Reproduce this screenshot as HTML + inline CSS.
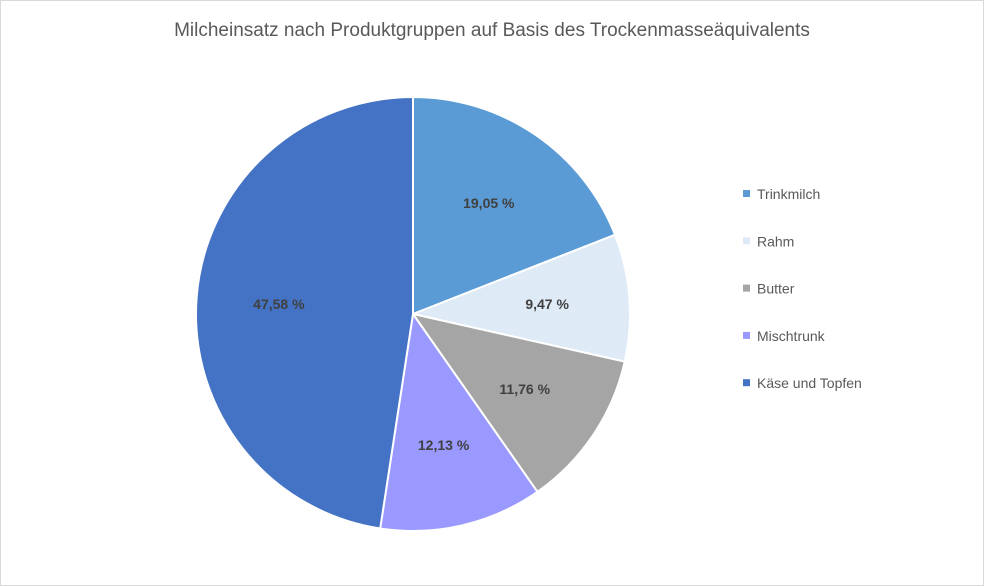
<!DOCTYPE html>
<html><head><meta charset="utf-8"><style>
body{margin:0;background:#fff;}
#wrap{position:relative;width:984px;height:586px;overflow:hidden;}
svg text{font-family:"Liberation Sans",sans-serif;}
</style></head><body>
<div id="wrap">
<svg id="chart" width="984" height="586">
<rect x="0.5" y="0.5" width="983" height="585" fill="#fff" stroke="#d9d9d9"/>
<text x="492" y="36" text-anchor="middle" font-size="19" fill="#595959">Milcheinsatz nach Produktgruppen auf Basis des Trockenmasseäquivalents</text>
<g id="slices"></g>
<g id="labels"></g>
<g id="legend"></g>
</svg>
</div>
<script>
const categories=["Trinkmilch","Rahm","Butter","Mischtrunk","Käse und Topfen"];
const values=[19.05,9.47,11.76,12.13,47.58];
const valueLabels=["19,05 %","9,47 %","11,76 %","12,13 %","47,58 %"];
const colors=["#5B9BD5","#DEEBF7","#A5A5A5","#9999FF","#4472C4"];
const NS="http://www.w3.org/2000/svg";
const cx=413,cy=314,R=217;
const total=values.reduce((a,b)=>a+b,0);
function pt(a,r){return [cx+r*Math.sin(a),cy-r*Math.cos(a)];}
let start=0;
const gS=document.getElementById('slices'),gL=document.getElementById('labels'),gG=document.getElementById('legend');
values.forEach((v,i)=>{
  const ang=v/total*2*Math.PI,end=start+ang;
  const [x1,y1]=pt(start,R),[x2,y2]=pt(end,R);
  const p=document.createElementNS(NS,'path');
  p.setAttribute('d',`M${cx},${cy} L${x1},${y1} A${R},${R} 0 ${ang>Math.PI?1:0} 1 ${x2},${y2} Z`);
  p.setAttribute('fill',colors[i]);p.setAttribute('stroke','#fff');p.setAttribute('stroke-width','2');
  
  
  gS.appendChild(p);
  const [lx,ly]=pt(start+ang/2,R*0.62);
  const t=document.createElementNS(NS,'text');
  t.setAttribute('x',lx);t.setAttribute('y',ly+5);t.setAttribute('text-anchor','middle');
  t.setAttribute('font-size','14');t.setAttribute('font-weight','bold');t.setAttribute('fill','#404040');
  t.textContent=valueLabels[i];
  
  
  gL.appendChild(t);
  const ry=194+i*47.3;
  const sq=document.createElementNS(NS,'rect');
  sq.setAttribute('x',743);sq.setAttribute('y',ry-4);sq.setAttribute('width',7);sq.setAttribute('height',7);sq.setAttribute('fill',colors[i]);
  
  
  gG.appendChild(sq);
  const lt=document.createElementNS(NS,'text');
  lt.setAttribute('x',757);lt.setAttribute('y',ry+5);lt.setAttribute('font-size','14');lt.setAttribute('fill','#595959');
  lt.textContent=categories[i];
  
  
  gG.appendChild(lt);
  start=end;
});
</script>
</body></html>
